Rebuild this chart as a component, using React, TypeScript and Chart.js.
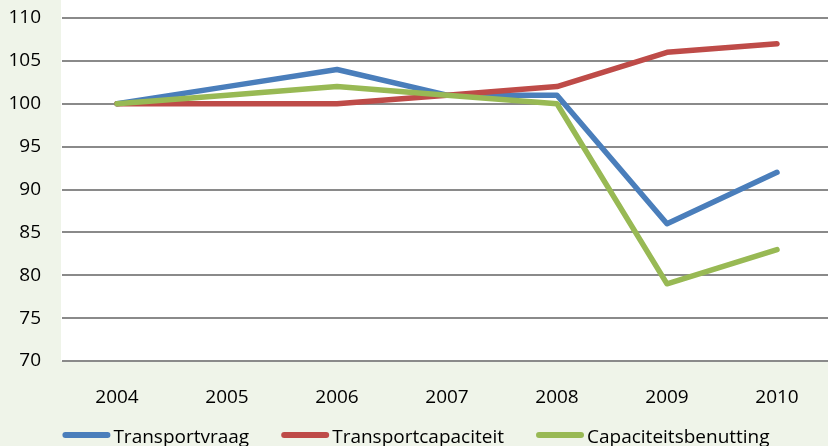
import { useEffect, useRef } from 'react';
import { Chart, registerables } from 'chart.js';

Chart.register(...registerables);

const years = ['2004', '2005', '2006', '2007', '2008', '2009', '2010'];
const transportvraag = [100, 102, 104, 101, 101, 86, 92];
const transportcapaciteit = [100, 100, 100, 101, 102, 106, 107];
const capaciteitsbenutting = [100, 101, 102, 101, 100, 79, 83];

const yMin = 70;
const yMax = 110;
const yStep = 5;

const BG = '#eff4e9';
const FONT_FAMILY = '"Open Sans", "DejaVu Sans", sans-serif';
const FONT_SIZE = 19;

const seriesColors = ['#4a7ebb', '#be4b48', '#98b954'];

// Paints the light page background and the white plot panel behind the lines
const panelPlugin = {
  id: 'panel',
  beforeDraw(chart: Chart) {
    const { ctx, chartArea, width, height } = chart;
    ctx.save();
    ctx.fillStyle = BG;
    ctx.fillRect(0, 0, width, height);
    ctx.fillStyle = '#ffffff';
    ctx.fillRect(chartArea.left - 1, 0, width - chartArea.left + 1, chartArea.bottom);
    ctx.restore();
  },
};

// Legend row along the bottom: a thick rounded line sample followed by the label
const legendPlugin = {
  id: 'lineLegend',
  afterDraw(chart: Chart) {
    const { ctx } = chart;
    const sample = 48;
    const gap = 3;
    const itemGap = 32;
    const centerX = 416;
    const lineY = 435;
    const textY = 443;
    ctx.save();
    ctx.font = `${FONT_SIZE}px ${FONT_FAMILY}`;
    const items = chart.data.datasets.map((ds) => ({
      label: String(ds.label),
      color: String(ds.borderColor),
      w: ctx.measureText(String(ds.label)).width,
    }));
    const total = items.reduce((s, it) => s + sample + gap + it.w, 0) + itemGap * (items.length - 1);
    let x = centerX - total / 2;
    for (const it of items) {
      ctx.strokeStyle = it.color;
      ctx.lineWidth = 6;
      ctx.lineCap = 'round';
      ctx.beginPath();
      ctx.moveTo(x + 3, lineY);
      ctx.lineTo(x + sample - 3, lineY);
      ctx.stroke();
      ctx.fillStyle = '#000000';
      ctx.textBaseline = 'alphabetic';
      ctx.textAlign = 'left';
      ctx.fillText(it.label, x + sample + gap, textY);
      x += sample + gap + it.w + itemGap;
    }
    ctx.restore();
  },
};

export default function App() {
  const canvasRef = useRef<HTMLCanvasElement>(null);

  useEffect(() => {
    const canvas = canvasRef.current;
    if (!canvas) return;
    const line = (label: string, data: number[], color: string, order: number) => ({
      label,
      data,
      borderColor: color,
      backgroundColor: color,
      borderWidth: 5.5,
      borderCapStyle: 'round' as const,
      borderJoinStyle: 'round' as const,
      pointRadius: 0,
      pointHoverRadius: 0,
      tension: 0,
      fill: false,
      order,
    });
    const chart = new Chart(canvas, {
      type: 'line',
      data: {
        labels: years,
        datasets: [
          line('Transportvraag', transportvraag, seriesColors[0], 2),
          line('Transportcapaciteit', transportcapaciteit, seriesColors[1], 1),
          line('Capaciteitsbenutting', capaciteitsbenutting, seriesColors[2], 0),
        ],
      },
      options: {
        responsive: false,
        animation: false,
        devicePixelRatio: 1,
        layout: { padding: { top: 18, right: 8, left: 0, bottom: 0 } },
        plugins: {
          legend: { display: false },
          tooltip: { enabled: false },
        },
        scales: {
          x: {
            offset: true,
            grid: { display: false },
            border: { display: false },
            ticks: {
              color: '#000000',
              padding: 17,
              maxRotation: 0,
              font: { family: FONT_FAMILY, size: FONT_SIZE },
            },
            afterFit(scale: any) {
              scale.height = 85;
              scale.paddingLeft = 0;
              scale.paddingRight = 0;
            },
          },
          y: {
            min: yMin,
            max: yMax,
            grid: { color: '#8a8a8a', lineWidth: 2, drawTicks: false },
            border: { display: false },
            ticks: {
              stepSize: yStep,
              color: '#000000',
              padding: 21,
              font: { family: FONT_FAMILY, size: FONT_SIZE },
            },
            afterFit(scale: any) {
              scale.width = 62;
              scale.paddingTop = 0;
              scale.paddingBottom = 0;
            },
          },
        },
      },
      plugins: [panelPlugin, legendPlugin],
    });
    return () => chart.destroy();
  }, []);

  return (
    <div
      style={{
        position: 'fixed',
        left: 0,
        top: 0,
        width: 828,
        height: 446,
        overflow: 'hidden',
        background: BG,
      }}
    >
      <canvas
        ref={canvasRef}
        width={840}
        height={446}
        style={{ display: 'block', width: 840, height: 446 }}
      />
    </div>
  );
}
